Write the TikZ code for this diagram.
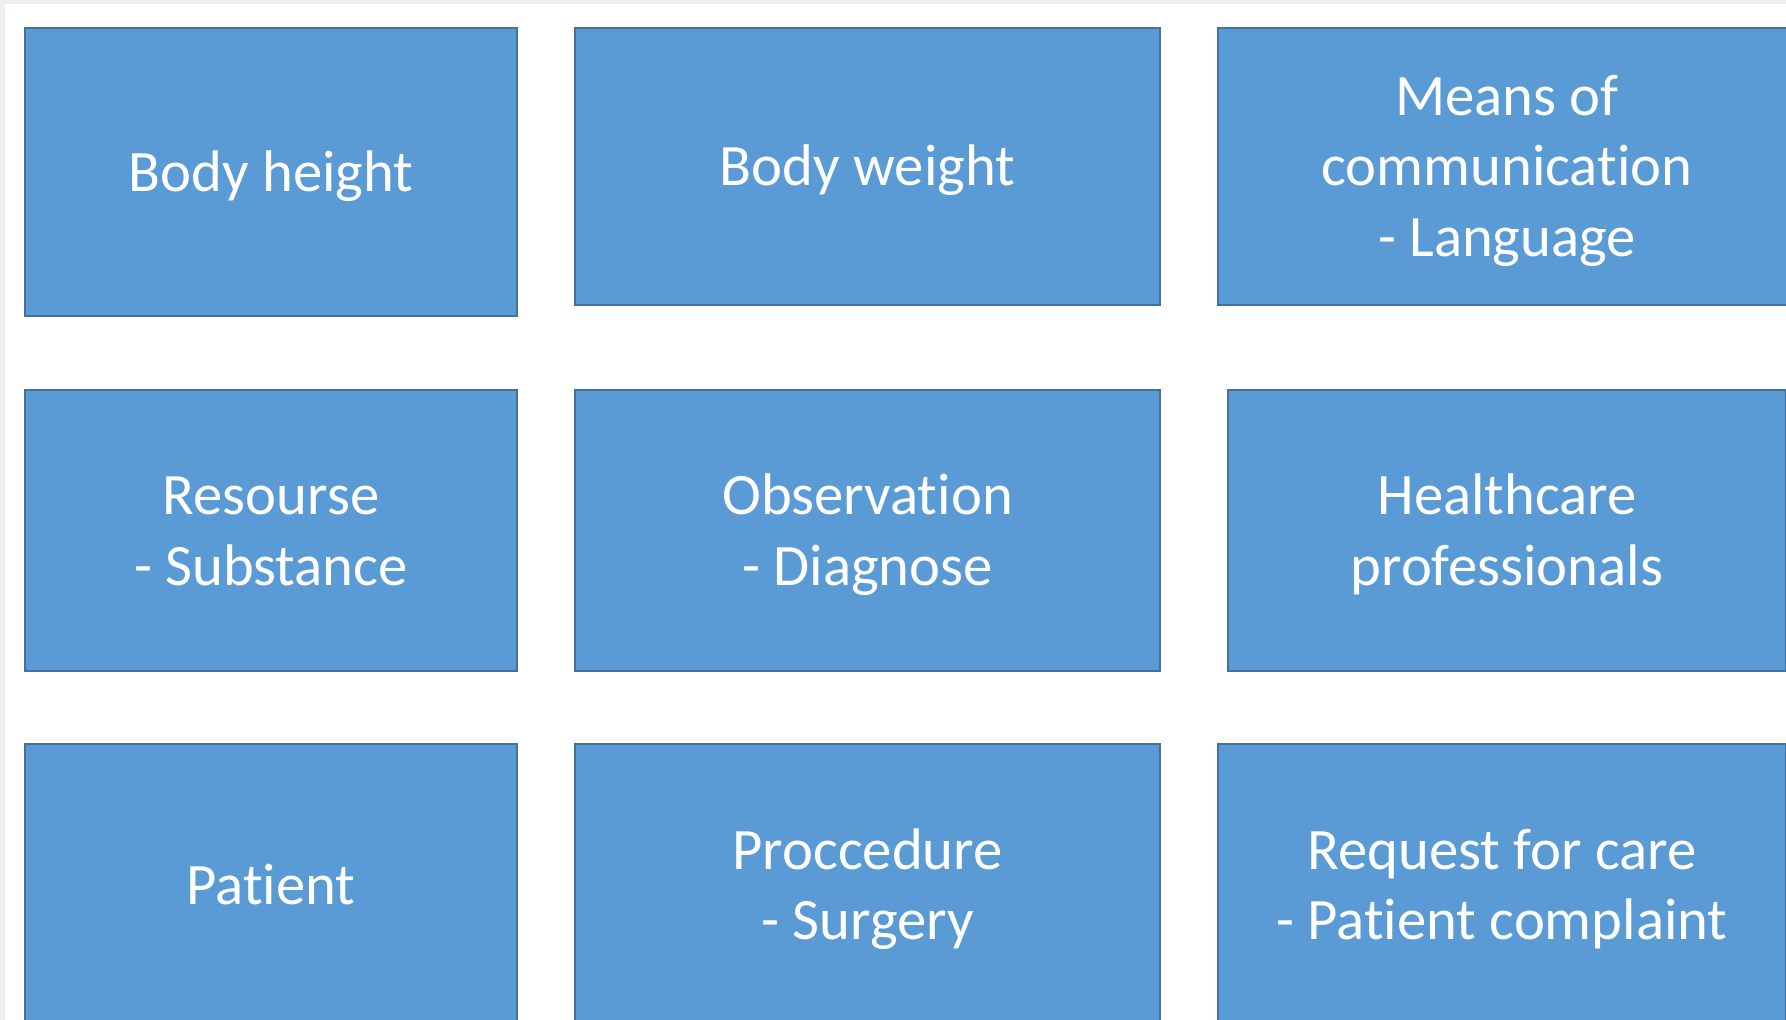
\documentclass[tikz,border=0pt]{standalone}
\usepackage{fontspec}
\newfontfamily\boxfont[Ligatures=NoCommon]{Carlito}
% altura y profundidad de linea
\newcommand\arriba{\rule{0pt}{0.93em}}
\newcommand\abajo{\rule[-0.269em]{0pt}{0pt}}
\begin{document}
\begin{tikzpicture}[x=0.02cm,y=-0.02cm,
        box/.style={draw=borde,fill=caja,line width=0.03cm,text=white,
            align=center,inner sep=0pt,minimum height=#1,
            font=\boxfont\fontsize{33.4}{40}\selectfont},
        box/.default=5.54cm]
        %colores
        \definecolor{caja}{HTML}{5B9BD5}
        \definecolor{borde}{HTML}{41719C}
        \definecolor{marco}{HTML}{ECEEF1}
        % Fondo y marco
        \useasboundingbox (0,0) rectangle (1786,1020);
        \clip (0,0) rectangle (1786,1020);
        \fill[marco] (0,0) rectangle (1786,1020);
        \fill[white] (5,4) rectangle (1786,1020);

        % Fila 1
        \node[box=5.76cm,minimum width=9.84cm] (bheight) at (271,172) {\arriba Body height\abajo};
        \node[box,minimum width=11.7cm] (bweight) at (867.5,166.5) {\arriba Body weight\abajo};
        \node[box,minimum width=11.56cm] (means) at (1507,166.5) {\arriba Means of\\communication\\- Language\abajo};

        % Fila 2
        \node[box=5.62cm,minimum width=9.84cm] (resource) at (271,530.5) {\arriba Resourse\\- Substance\abajo};
        \node[box=5.62cm,minimum width=11.7cm] (observ) at (867.5,530.5) {\arriba Observation\\- Diagnose\abajo};
        \node[box=5.62cm,minimum width=11.16cm] (hcprof) at (1507,530.5) {\arriba Healthcare\\professionals\abajo};

        % Fila 3
        \node[box=5.64cm,minimum width=9.84cm] (patient) at (271,885) {\arriba Patient\abajo};
        \node[box=5.64cm,minimum width=11.7cm] (procedure) at (867.5,885) {\arriba Proccedure\\- Surgery\abajo};
        \node[box=5.64cm,minimum width=11.36cm] (request) at (1502,885) {\arriba Request for care\\- Patient complaint\abajo};
    \end{tikzpicture}
\end{document}
